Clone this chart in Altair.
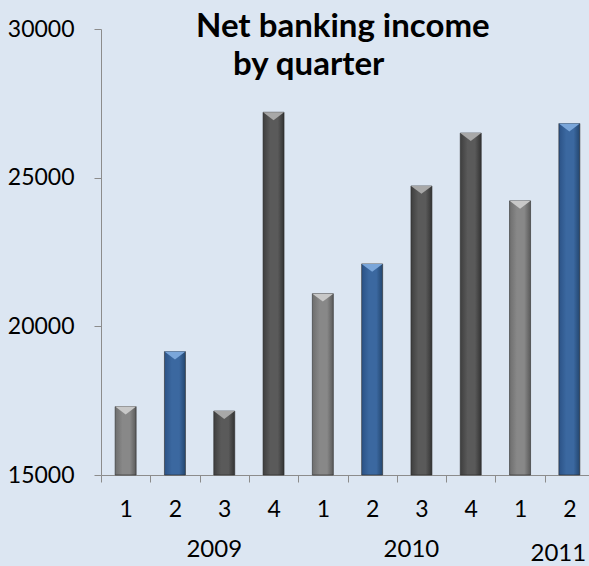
import altair as alt
import pandas as pd

# ---- data ----
years = ["2009", "2009", "2009", "2009", "2010", "2010", "2010", "2010", "2011", "2011"]
quarters = ["1", "2", "3", "4", "1", "2", "3", "4", "1", "2"]
income = [17300, 19150, 17150, 27200, 21100, 22100, 24720, 26500, 24220, 26820]

year_labels = ["2009", "2010", "2011"]
year_anchor_quarter = ["3", "3", "2"]
title_lines = ["Net banking income", "by quarter"]

cats = [f"{y}-{q}" for y, q in zip(years, quarters)]
df = pd.DataFrame({"cat": cats, "year": years, "quarter": quarters, "income": income})
df["group"] = df["quarter"].map({"1": "light", "2": "blue", "3": "dark", "4": "dark"})

ydf = pd.DataFrame({
    "label": year_labels,
    "cat": [f"{y}-{q}" for y, q in zip(year_labels, year_anchor_quarter)],
})

FONT = "Lato"
W, H = 488, 446
BAR = 21
BASE = 15000

xscale = alt.Scale(domain=cats, range=[0, 493], paddingInner=0, paddingOuter=0)
yscale = alt.Scale(domain=[15000, 30000], nice=False, zero=False)

x_enc = alt.X("cat:N", scale=xscale, sort=cats,
              axis=alt.Axis(title=None, labelExpr="split(datum.label, '-')[1]",
                            tickBand="extent", tickSize=7, labelAngle=0,
                            labelFontSize=23, labelFont=FONT, labelColor="black",
                            labelPadding=16, domainColor="#8c8c8c", tickColor="#8c8c8c",
                            labelFlush=False))
y_enc = alt.Y("income:Q", scale=yscale,
              axis=alt.Axis(title=None, values=[15000, 20000, 25000, 30000], format="d",
                            tickSize=7, labelPadding=20, labelFontSize=23, labelFont=FONT,
                            labelColor="black", domainColor="#8c8c8c", tickColor="#8c8c8c",
                            grid=False))

def grad(edge, mid, dark):
    return alt.Gradient(
        gradient="linear", x1=0, x2=1, y1=0, y2=0,
        stops=[alt.GradientStop(color=edge, offset=0),
               alt.GradientStop(color=mid, offset=0.35),
               alt.GradientStop(color=mid, offset=0.7),
               alt.GradientStop(color=dark, offset=1)])

styles = {
    "light": (grad("#6e6e6e", "#888888", "#5a5a5a"), "#c8c8c8"),
    "blue": (grad("#2b5286", "#3b68a0", "#23466f"), "#7aa6da"),
    "dark": (grad("#3e3e3e", "#5a5a5a", "#333333"), "#a8a8a8"),
}

base = alt.Chart(df)
layers = []
for g, (fill, bevel) in styles.items():
    sub = base.transform_filter(alt.datum.group == g)
    layers.append(sub.mark_bar(size=BAR, fill=fill, stroke="#2a2a2a", strokeWidth=0.6)
                  .encode(x=x_enc, y=y_enc, y2=alt.Y2(datum=BASE)))
    layers.append(sub.mark_point(shape="M-1,0L1,0L0,0.75Z", size=BAR * BAR, filled=True,
                                 fill=bevel, opacity=1, strokeWidth=0)
                  .encode(x=x_enc, y=y_enc))

years_layer_a = alt.Chart(ydf).mark_text(font=FONT, fontSize=24, color="black",
                                         baseline="middle", dx=-10).encode(
    x=alt.X("cat:N", scale=xscale, sort=cats),
    y=alt.value(H + 75),
    text="label:N",
).transform_filter(alt.datum.label != "2011")
years_layer_b = alt.Chart(ydf).mark_text(font=FONT, fontSize=24, color="black",
                                         baseline="middle", dx=-11).encode(
    x=alt.X("cat:N", scale=xscale, sort=cats),
    y=alt.value(H + 79),
    text="label:N",
).transform_filter(alt.datum.label == "2011")

tdf = pd.DataFrame({"t": title_lines, "line": [0, 1]})
t1 = alt.Chart(tdf).transform_filter(alt.datum.line == 0).mark_text(
    font=FONT, fontSize=33, fontWeight="bold", color="black", align="left",
    baseline="alphabetic").encode(x=alt.value(95), y=alt.value(8), text="t:N")
t2 = alt.Chart(tdf).transform_filter(alt.datum.line == 1).mark_text(
    font=FONT, fontSize=33, fontWeight="bold", color="black", align="left",
    baseline="alphabetic").encode(x=alt.value(132), y=alt.value(46), text="t:N")

chart = alt.layer(*layers, years_layer_a, years_layer_b, t1, t2).properties(
    width=W, height=H,
    autosize=alt.AutoSizeParams(type="none"),
    padding={"left": 101, "top": 29, "right": 0, "bottom": 566 - 29 - H},
    background="#dce6f2",
).configure_view(stroke=None).resolve_scale(x="shared")

chart.save("out.html", embed_options={"renderer": "svg", "actions": False})
